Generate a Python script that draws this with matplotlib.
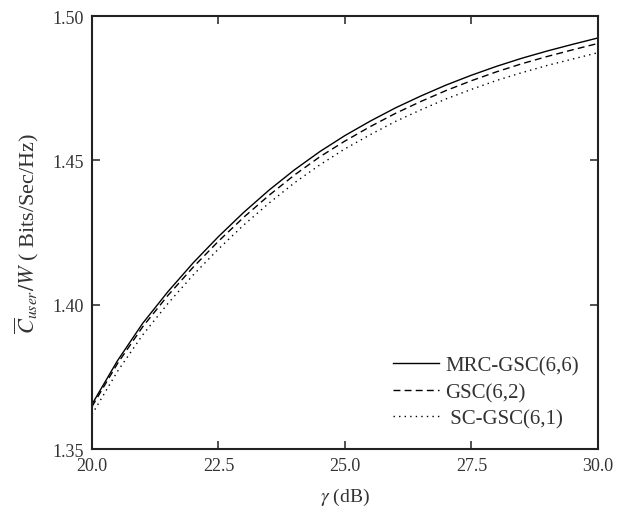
import matplotlib
matplotlib.use("Agg")
import matplotlib.pyplot as plt

gamma_db = [20.0, 20.5, 21.0, 21.5, 22.0, 22.5, 23.0, 23.5, 24.0, 24.5, 25.0,
            25.5, 26.0, 26.5, 27.0, 27.5, 28.0, 28.5, 29.0, 29.5, 30.0]
mrc_gsc_66 = [1.3655, 1.3805, 1.3935, 1.4045, 1.4145, 1.4236, 1.4320, 1.4397, 1.4467, 1.4530, 1.4586,
              1.4636, 1.4682, 1.4723, 1.4761, 1.4795, 1.4826, 1.4854, 1.4879, 1.4902, 1.4924]
gsc_62 = [1.3647, 1.3795, 1.3923, 1.4032, 1.4130, 1.4220, 1.4303, 1.4379, 1.4449, 1.4512, 1.4567,
          1.4617, 1.4663, 1.4704, 1.4742, 1.4776, 1.4807, 1.4835, 1.4860, 1.4883, 1.4905]
sc_gsc_61 = [1.3620, 1.3768, 1.3895, 1.4004, 1.4103, 1.4193, 1.4276, 1.4352, 1.4422, 1.4484, 1.4540,
             1.4589, 1.4635, 1.4675, 1.4713, 1.4746, 1.4777, 1.4804, 1.4829, 1.4851, 1.4873]

x_ticks = [20.0, 22.5, 25.0, 27.5, 30.0]
y_ticks = [1.35, 1.40, 1.45, 1.50]

plt.rcParams['font.family'] = ['Liberation Serif', 'DejaVu Serif']
plt.rcParams['mathtext.fontset'] = 'stix'

fig = plt.figure(figsize=(6.17, 5.10), dpi=100)
ax = fig.add_axes([0.1491, 0.1176, 0.820, 0.849])

ax.plot(gamma_db, mrc_gsc_66, color='black', lw=1.0, ls='-', label='MRC-GSC(6,6)')
ax.plot(gamma_db, gsc_62, color='black', lw=1.0, ls=(0, (5, 3)), label='GSC(6,2)')
ax.plot(gamma_db, sc_gsc_61, color='black', lw=1.0, ls=(0, (1, 3)), label=' SC-GSC(6,1)')

ax.set_xlim(20, 30)
ax.set_ylim(1.35, 1.50)
ax.set_xticks(x_ticks)
ax.set_xticklabels([f"{v:.1f}" for v in x_ticks])
ax.set_yticks(y_ticks)
ax.set_yticklabels([f"{v:.2f}" for v in y_ticks])
ax.tick_params(direction='in', top=True, right=True, length=6, width=1.2,
               labelsize=13, colors='#333333', labelcolor='#333333')
ax.tick_params(axis='y', pad=6)
ax.tick_params(axis='x', pad=6)
for s in ax.spines.values():
    s.set_linewidth(1.5)
    s.set_color('#222222')

ax.set_xlabel(r'$\gamma$ (dB)', fontsize=14, labelpad=8, color='#333333')
ax.set_ylabel(r'$\overline{C}_{user}/W$ ( Bits/Sec/Hz)', fontsize=16, labelpad=8, color='#333333')

leg = ax.legend(loc='upper left', bbox_to_anchor=(0.579, 0.234), frameon=False,
                fontsize=15, handlelength=2.2, handletextpad=0.3, labelspacing=0.33,
                borderpad=0.4, borderaxespad=0.0)
for t in leg.get_texts():
    t.set_color('#333333')

fig.savefig('out.png', dpi=100)
